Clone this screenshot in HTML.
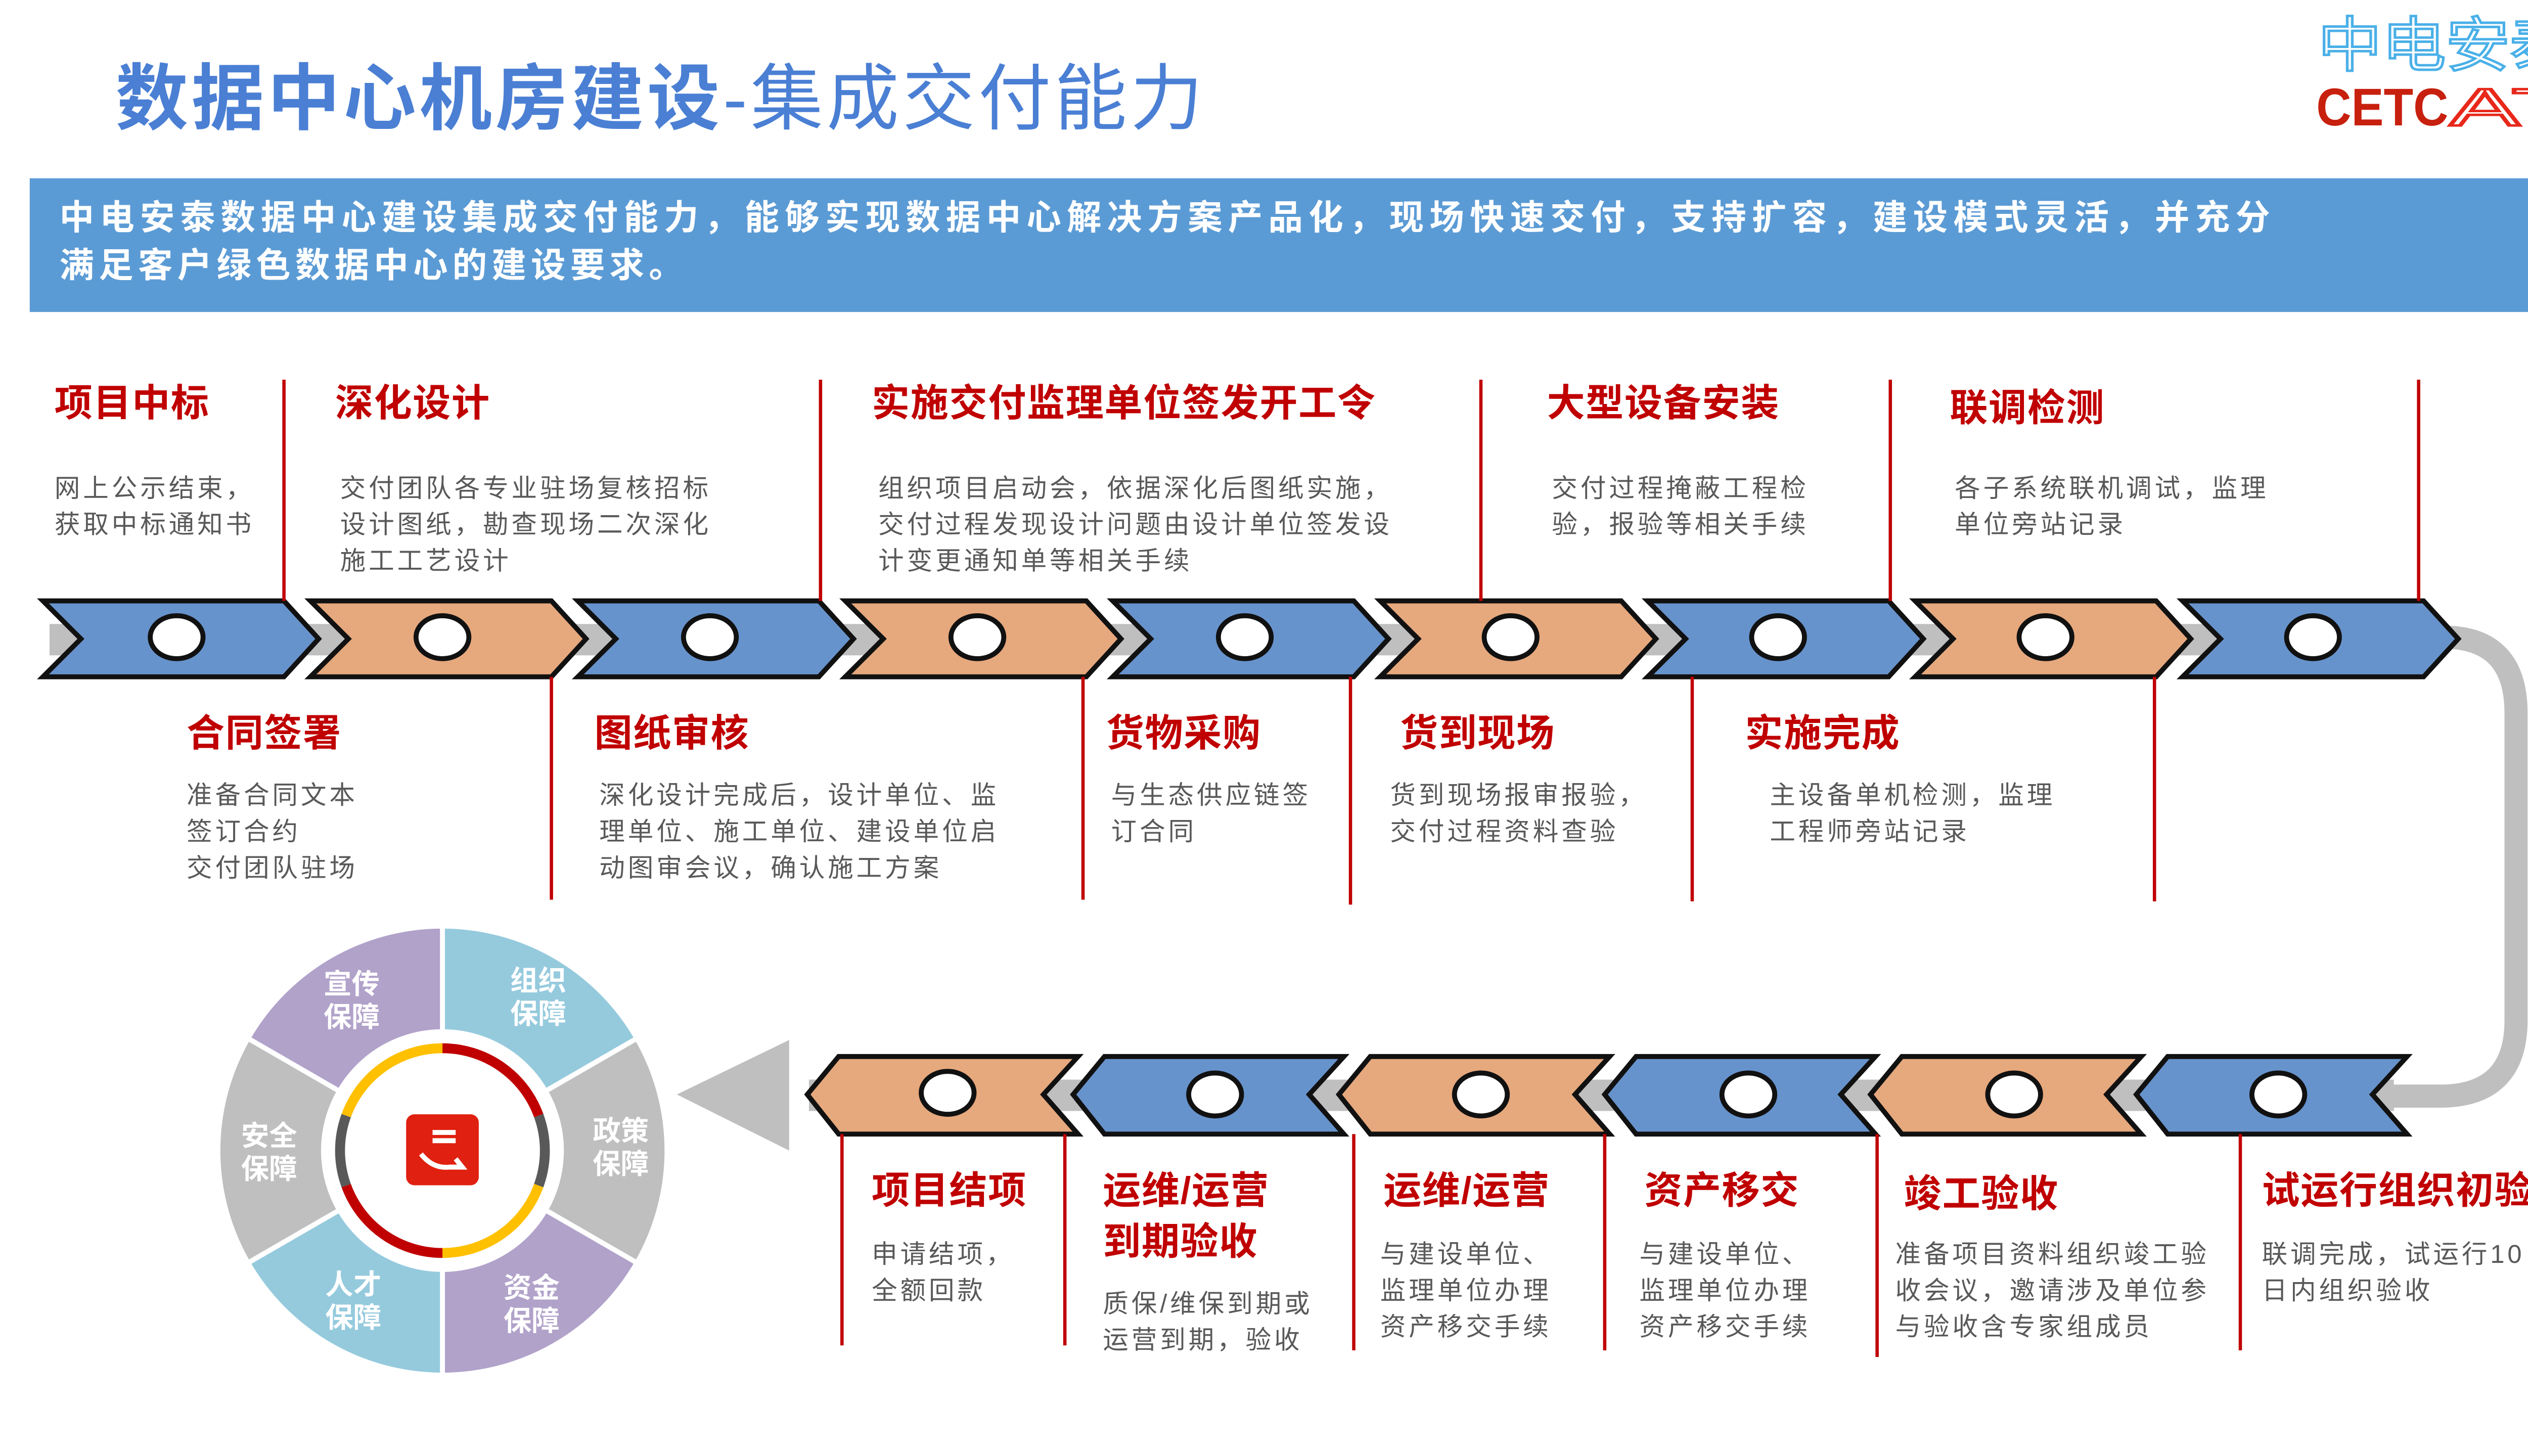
<!DOCTYPE html>
<html><head><meta charset="utf-8"><style>
html,body{margin:0;padding:0;background:#fff;}
svg{display:block;}
.h{font-family:"Liberation Sans","Noto Sans CJK SC",sans-serif;font-weight:bold;font-size:23px;fill:#c00000;letter-spacing:0.5px;}
.b{font-family:"Liberation Sans","Noto Sans CJK SC",sans-serif;font-size:15.5px;fill:#595959;letter-spacing:1.8px;}
.w{font-family:"Liberation Sans","Noto Sans CJK SC",sans-serif;font-weight:bold;font-size:17px;fill:#fff;}
</style></head><body>
<svg width="5120" height="2880" viewBox="0 0 1568 882" xmlns="http://www.w3.org/2000/svg">
<rect width="1568" height="882" fill="#fff"/>
<!-- title -->
<text x="70" y="75" font-family="Liberation Sans, Noto Sans CJK SC, sans-serif" font-size="44" fill="#4a7fd4" letter-spacing="2"><tspan font-weight="bold">数据中心机房建设</tspan><tspan>-集成交付能力</tspan></text>
<!-- logo -->
<text x="1404" y="40" font-family="Liberation Sans, Noto Sans CJK SC, sans-serif" font-size="36" fill="none" stroke="#4ab0e8" stroke-width="1.5" textLength="155" lengthAdjust="spacingAndGlyphs">中电安泰</text>
<text x="1403" y="76" font-family="Liberation Sans, sans-serif" font-weight="bold" font-size="32" fill="#c8200f" textLength="80" lengthAdjust="spacingAndGlyphs">CETC</text>
<text x="1484" y="76" font-family="Liberation Sans, sans-serif" font-size="32" fill="#fff" stroke="#e8281a" stroke-width="1.5" textLength="76" lengthAdjust="spacingAndGlyphs">AT</text>
<!-- banner -->
<rect x="18" y="108" width="1534" height="81" fill="#5b9bd5"/>
<text x="36" y="139" font-family="Liberation Sans, Noto Sans CJK SC, sans-serif" font-weight="bold" font-size="21" fill="#fff" textLength="1339" lengthAdjust="spacing">中电安泰数据中心建设集成交付能力，能够实现数据中心解决方案产品化，现场快速交付，支持扩容，建设模式灵活，并充分</text>
<text x="36" y="168" font-family="Liberation Sans, Noto Sans CJK SC, sans-serif" font-weight="bold" font-size="21" fill="#fff" textLength="378" lengthAdjust="spacing">满足客户绿色数据中心的建设要求。</text>

<!-- gray connectors -->
<rect x="30" y="378" width="1450" height="19" fill="#bfbfbf"/>
<rect x="490" y="654" width="960" height="19" fill="#bfbfbf"/>
<path d="M1470 386 H1480 Q1524 386 1524 432 V618 Q1524 664 1478 664 H1440" fill="none" stroke="#bfbfbf" stroke-width="14"/>
<polygon points="410,663 478,630 478,697" fill="#bfbfbf"/>

<!-- top chevrons -->
<g stroke="#111" stroke-width="3" stroke-linejoin="miter">
<polygon points="26,364 172,364 193,387 172,410 26,410 49,387" fill="#6793cc"/>
<polygon points="188,364 334,364 355,387 334,410 188,410 211,387" fill="#e6a87d"/>
<polygon points="350,364 496,364 517,387 496,410 350,410 373,387" fill="#6793cc"/>
<polygon points="512,364 658,364 679,387 658,410 512,410 535,387" fill="#e6a87d"/>
<polygon points="674,364 820,364 841,387 820,410 674,410 697,387" fill="#6793cc"/>
<polygon points="836,364 982,364 1003,387 982,410 836,410 859,387" fill="#e6a87d"/>
<polygon points="998,364 1144,364 1165,387 1144,410 998,410 1021,387" fill="#6793cc"/>
<polygon points="1160,364 1306,364 1327,387 1306,410 1160,410 1183,387" fill="#e6a87d"/>
<polygon points="1322,364 1468,364 1489,387 1468,410 1322,410 1345,387" fill="#6793cc"/>
<!-- bottom chevrons -->
<polygon points="489,663 508,640 653,640 632,663 653,687 508,687" fill="#e6a87d"/>
<polygon points="650,663 669,640 814,640 793,663 814,687 669,687" fill="#6793cc"/>
<polygon points="811,663 830,640 975,640 954,663 975,687 830,687" fill="#e6a87d"/>
<polygon points="972,663 991,640 1136,640 1115,663 1136,687 991,687" fill="#6793cc"/>
<polygon points="1133,663 1152,640 1297,640 1276,663 1297,687 1152,687" fill="#e6a87d"/>
<polygon points="1294,663 1313,640 1458,640 1437,663 1458,687 1313,687" fill="#6793cc"/>
</g>
<g fill="#fff" stroke="#111" stroke-width="3">
<ellipse cx="107" cy="386" rx="16" ry="13"/><ellipse cx="268" cy="386" rx="16" ry="13"/><ellipse cx="430" cy="386" rx="16" ry="13"/>
<ellipse cx="592" cy="386" rx="16" ry="13"/><ellipse cx="754" cy="386" rx="16" ry="13"/><ellipse cx="915" cy="386" rx="16" ry="13"/>
<ellipse cx="1077" cy="386" rx="16" ry="13"/><ellipse cx="1239" cy="386" rx="16" ry="13"/><ellipse cx="1401" cy="386" rx="16" ry="13"/>
<ellipse cx="574" cy="662" rx="16" ry="13"/><ellipse cx="736" cy="663" rx="16" ry="13"/><ellipse cx="897" cy="663" rx="16" ry="13"/>
<ellipse cx="1059" cy="663" rx="16" ry="13"/><ellipse cx="1220" cy="663" rx="16" ry="13"/><ellipse cx="1380" cy="663" rx="16" ry="13"/>
</g>

<!-- red lines -->
<g stroke="#c00000" stroke-width="2">
<line x1="172" y1="230" x2="172" y2="364"/><line x1="497" y1="230" x2="497" y2="364"/><line x1="897" y1="230" x2="897" y2="364"/>
<line x1="1145" y1="230" x2="1145" y2="364"/><line x1="1465" y1="230" x2="1465" y2="364"/>
<line x1="334" y1="410" x2="334" y2="545"/><line x1="656" y1="410" x2="656" y2="545"/><line x1="818" y1="410" x2="818" y2="548"/>
<line x1="1025" y1="410" x2="1025" y2="546"/><line x1="1305" y1="410" x2="1305" y2="546"/>
<line x1="510" y1="687" x2="510" y2="815"/><line x1="645" y1="687" x2="645" y2="815"/><line x1="820" y1="687" x2="820" y2="818"/>
<line x1="972" y1="687" x2="972" y2="818"/><line x1="1137" y1="687" x2="1137" y2="822"/><line x1="1357" y1="687" x2="1357" y2="818"/>
</g>

<!-- top texts -->
<text class="h" x="33" y="252">项目中标</text>
<text class="b" x="33" y="301">网上公示结束，</text><text class="b" x="33" y="323">获取中标通知书</text>
<text class="h" x="203" y="252">深化设计</text>
<text class="b" x="206" y="301">交付团队各专业驻场复核招标</text><text class="b" x="206" y="323">设计图纸，勘查现场二次深化</text><text class="b" x="206" y="345">施工工艺设计</text>
<text class="h" x="528" y="252">实施交付监理单位签发开工令</text>
<text class="b" x="532" y="301">组织项目启动会，依据深化后图纸实施，</text><text class="b" x="532" y="323">交付过程发现设计问题由设计单位签发设</text><text class="b" x="532" y="345">计变更通知单等相关手续</text>
<text class="h" x="937" y="252">大型设备安装</text>
<text class="b" x="940" y="301">交付过程掩蔽工程检</text><text class="b" x="940" y="323">验，报验等相关手续</text>
<text class="h" x="1181" y="255">联调检测</text>
<text class="b" x="1184" y="301">各子系统联机调试，监理</text><text class="b" x="1184" y="323">单位旁站记录</text>

<!-- middle texts -->
<text class="h" x="113" y="452">合同签署</text>
<text class="b" x="113" y="487">准备合同文本</text><text class="b" x="113" y="509">签订合约</text><text class="b" x="113" y="531">交付团队驻场</text>
<text class="h" x="360" y="452">图纸审核</text>
<text class="b" x="363" y="487">深化设计完成后，设计单位、监</text><text class="b" x="363" y="509">理单位、施工单位、建设单位启</text><text class="b" x="363" y="531">动图审会议，确认施工方案</text>
<text class="h" x="670" y="452">货物采购</text>
<text class="b" x="673" y="487">与生态供应链签</text><text class="b" x="673" y="509">订合同</text>
<text class="h" x="848" y="452">货到现场</text>
<text class="b" x="842" y="487">货到现场报审报验，</text><text class="b" x="842" y="509">交付过程资料查验</text>
<text class="h" x="1057" y="452">实施完成</text>
<text class="b" x="1072" y="487">主设备单机检测，监理</text><text class="b" x="1072" y="509">工程师旁站记录</text>

<!-- bottom texts -->
<text class="h" x="528" y="729">项目结项</text>
<text class="b" x="528" y="765">申请结项，</text><text class="b" x="528" y="787">全额回款</text>
<text class="h" x="668" y="729">运维/运营</text><text class="h" x="668" y="760">到期验收</text>
<text class="b" x="668" y="795">质保/维保到期或</text><text class="b" x="668" y="817">运营到期，验收</text>
<text class="h" x="838" y="729">运维/运营</text>
<text class="b" x="836" y="765">与建设单位、</text><text class="b" x="836" y="787">监理单位办理</text><text class="b" x="836" y="809">资产移交手续</text>
<text class="h" x="996" y="729">资产移交</text>
<text class="b" x="993" y="765">与建设单位、</text><text class="b" x="993" y="787">监理单位办理</text><text class="b" x="993" y="809">资产移交手续</text>
<text class="h" x="1153" y="731">竣工验收</text>
<text class="b" x="1148" y="765" letter-spacing="0.5">准备项目资料组织竣工验</text><text class="b" x="1148" y="787" letter-spacing="0.5">收会议，邀请涉及单位参</text><text class="b" x="1148" y="809" letter-spacing="0.5">与验收含专家组成员</text>
<text class="h" x="1370" y="729" letter-spacing="0">试运行组织初验</text>
<text class="b" x="1370" y="765" letter-spacing="0.8">联调完成，试运行10</text><text class="b" x="1370" y="787" letter-spacing="0.8">日内组织验收</text>

<!-- wheel -->
<g stroke="#fff" stroke-width="3">
<path d="M268 561 A136 136 0 0 1 385.8 629 L330.4 661 A72 72 0 0 0 268 625 Z" fill="#95cadd"/>
<path d="M385.8 629 A136 136 0 0 1 385.8 765 L330.4 733 A72 72 0 0 0 330.4 661 Z" fill="#bfbfbf"/>
<path d="M385.8 765 A136 136 0 0 1 268 833 L268 769 A72 72 0 0 0 330.4 733 Z" fill="#b1a2ca"/>
<path d="M268 833 A136 136 0 0 1 150.2 765 L205.6 733 A72 72 0 0 0 268 769 Z" fill="#95cadd"/>
<path d="M150.2 765 A136 136 0 0 1 150.2 629 L205.6 661 A72 72 0 0 0 205.6 733 Z" fill="#bfbfbf"/>
<path d="M150.2 629 A136 136 0 0 1 268 561 L268 625 A72 72 0 0 0 205.6 661 Z" fill="#b1a2ca"/>
</g>
<g fill="none" stroke-width="6">
<path d="M268 635 A62 62 0 0 1 326.3 675.8" stroke="#c00000"/>
<path d="M326.3 675.8 A62 62 0 0 1 326.3 718.2" stroke="#595959"/>
<path d="M326.3 718.2 A62 62 0 0 1 268 759" stroke="#ffc000"/>
<path d="M268 759 A62 62 0 0 1 209.7 718.2" stroke="#c00000"/>
<path d="M209.7 718.2 A62 62 0 0 1 209.7 675.8" stroke="#595959"/>
<path d="M209.7 675.8 A62 62 0 0 1 268 635" stroke="#ffc000"/>
</g>
<rect x="246" y="675" width="44" height="43" rx="5" fill="#e02010"/>
<g stroke="#fff" stroke-width="3" fill="none"><line x1="262" y1="686" x2="276" y2="686"/><line x1="262" y1="691" x2="276" y2="691"/>
<path d="M255 699 Q262 708 272 707 L280 707 L276 702"/></g>
<text class="w" x="196" y="602">宣传</text><text class="w" x="196" y="622">保障</text>
<text class="w" x="309" y="600">组织</text><text class="w" x="309" y="620">保障</text>
<text class="w" x="146" y="694">安全</text><text class="w" x="146" y="714">保障</text>
<text class="w" x="359" y="691">政策</text><text class="w" x="359" y="711">保障</text>
<text class="w" x="197" y="784">人才</text><text class="w" x="197" y="804">保障</text>
<text class="w" x="305" y="786">资金</text><text class="w" x="305" y="806">保障</text>
</svg>
</body></html>
